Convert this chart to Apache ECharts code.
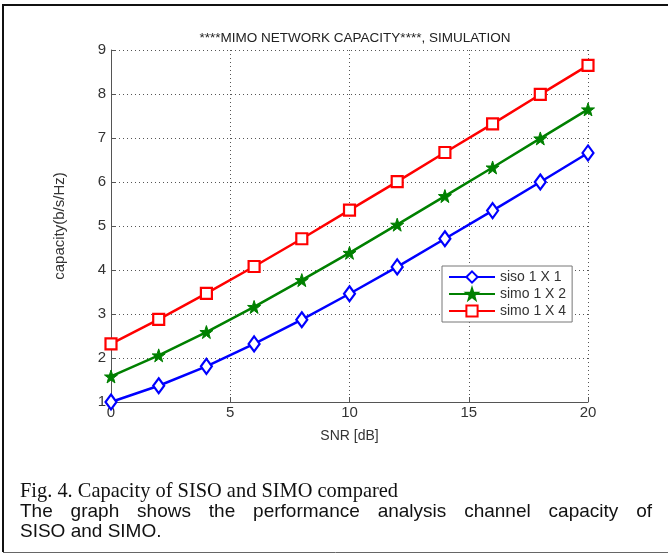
<!DOCTYPE html>
<html>
<head>
<meta charset="utf-8">
<script src="https://cdn.jsdelivr.net/npm/echarts@6/dist/echarts.min.js"></script>
<style>
  html, body { margin: 0; padding: 0; background: #fff; }
  #chart { width: 668px; height: 555px; }
</style>
</head>
<body>
<div id="chart"></div>
<script>
// SNR sweep in dB
const snrDb = [0, 2, 4, 6, 8, 10, 12, 14, 16, 18, 20];

// Capacity in b/s/Hz for each antenna configuration
const sisoCap   = [1.00, 1.37, 1.81, 2.32, 2.87, 3.46, 4.07, 4.71, 5.35, 6.00, 6.66];
const simo2Cap  = [1.58, 2.06, 2.59, 3.16, 3.77, 4.39, 5.03, 5.68, 6.33, 6.99, 7.65];
const simo4Cap  = [2.32, 2.88, 3.47, 4.08, 4.71, 5.36, 6.01, 6.67, 7.32, 7.99, 8.65];

const seriesNames = ['siso 1 X 1', 'simo 1 X 2', 'simo 1 X 4'];
const xTicks = [0, 5, 10, 15, 20];
const yTicks = [1, 2, 3, 4, 5, 6, 7, 8, 9];

const captionTitle = 'Fig. 4. Capacity of SISO and SIMO compared';
const captionLines = [
  'The graph shows the performance analysis channel capacity of',
  'SISO and SIMO.'
];

const starPath = 'path://M50,0 L61.8,35.1 L98.1,35.1 L68.8,56.7 L79.4,90.9 L50,70 L20.6,90.9 L31.2,56.7 L1.9,35.1 L38.2,35.1 Z';

function pairs(ys) { return snrDb.map((x, i) => [x, ys[i]]); }

// text measuring for caption layout
const measureCtx = document.createElement('canvas').getContext('2d');
function textWidth(str, font) { measureCtx.font = font; return measureCtx.measureText(str).width; }

const serifFamily = '"Liberation Serif", "DejaVu Serif", serif';
const sansFamily = '"Liberation Sans", Arial, sans-serif';

// caption heading: tall serif face squeezed into its column width
const headWidth = 378;
const headFont = '22px ' + serifFamily;
const headScale = headWidth / textWidth(captionTitle, headFont);

// body text is justified between the two margins
const bodyFont = '19px ' + sansFamily;
const textLeft = 20, textRight = 652;
function justifiedWords(line, top) {
  const words = line.split(' ');
  const widths = words.map(w => textWidth(w, bodyFont));
  const total = widths.reduce((a, b) => a + b, 0);
  const gap = (textRight - textLeft - total) / (words.length - 1);
  let x = textLeft;
  return words.map((w, i) => {
    const el = { type: 'text', x: x, y: top,
      style: { text: w, font: bodyFont, fill: '#111', textVerticalAlign: 'middle' } };
    x += widths[i] + gap;
    return el;
  });
}
function plainLine(line, top) {
  return { type: 'text', x: textLeft, y: top,
    style: { text: line, font: bodyFont, fill: '#111', textVerticalAlign: 'middle' } };
}

const chart = echarts.init(document.getElementById('chart'));

chart.setOption({
  animation: false,
  backgroundColor: '#fff',
  title: {
    text: '****MIMO NETWORK CAPACITY****, SIMULATION',
    left: 350, top: 26, textAlign: 'center',
    textStyle: { fontFamily: sansFamily, fontSize: 13.5, fontWeight: 'normal', color: '#222' }
  },
  grid: { left: 111, right: 80, top: 50, bottom: 153 },
  legend: {
    data: seriesNames,
    orient: 'vertical',
    left: 442, top: 266,
    width: 132,
    padding: [4, 6, 4, 6],
    itemGap: 3,
    itemWidth: 46, itemHeight: 14,
    backgroundColor: '#fff',
    borderColor: '#777', borderWidth: 1,
    textStyle: { fontFamily: sansFamily, fontSize: 14, color: '#333' }
  },
  xAxis: {
    type: 'value', min: 0, max: 20, interval: 5,
    name: 'SNR [dB]', nameLocation: 'middle', nameGap: 27,
    nameTextStyle: { fontFamily: sansFamily, fontSize: 14, color: '#333' },
    axisLine: { lineStyle: { color: '#555', width: 1 } },
    axisTick: { inside: true, length: 5, lineStyle: { color: '#555' } },
    axisLabel: { fontFamily: sansFamily, fontSize: 15, color: '#333', margin: 3,
      formatter: v => xTicks.includes(v) ? String(v) : '' },
    splitLine: { show: true, lineStyle: { type: [1, 3], color: '#555', width: 1 } }
  },
  yAxis: {
    type: 'value', min: 1, max: 9, interval: 1,
    name: 'capacity(b/s/Hz)', nameLocation: 'middle', nameGap: 44, nameRotate: 90,
    nameTextStyle: { fontFamily: sansFamily, fontSize: 15, color: '#333' },
    axisLine: { show: true, lineStyle: { color: '#555', width: 1 } },
    axisTick: { show: true, inside: true, length: 5, lineStyle: { color: '#555' } },
    axisLabel: { fontFamily: sansFamily, fontSize: 15, color: '#333', margin: 5,
      formatter: v => yTicks.includes(v) ? String(v) : '' },
    splitLine: { show: true, lineStyle: { type: [1, 3], color: '#555', width: 1 } }
  },
  series: [
    {
      name: seriesNames[0], type: 'line', data: pairs(sisoCap),
      symbol: 'diamond', symbolSize: [11, 15], showAllSymbol: true,
      lineStyle: { color: '#0000ff', width: 2.5 },
      itemStyle: { color: '#fff', borderColor: '#0000ff', borderWidth: 2.2 },
      z: 3
    },
    {
      name: seriesNames[1], type: 'line', data: pairs(simo2Cap),
      symbol: starPath, symbolSize: 13, showAllSymbol: true,
      lineStyle: { color: '#008000', width: 2.5 },
      itemStyle: { color: '#008000', borderColor: '#008000', borderWidth: 1 },
      z: 3
    },
    {
      name: seriesNames[2], type: 'line', data: pairs(simo4Cap),
      symbol: 'rect', symbolSize: 11, showAllSymbol: true,
      lineStyle: { color: '#ff0000', width: 2.5 },
      itemStyle: { color: '#fff', borderColor: '#ff0000', borderWidth: 2.2 },
      z: 3
    }
  ],
  graphic: [
    // frame of the figure panel
    { type: 'line', shape: { x1: 2, y1: 5, x2: 668, y2: 5 }, style: { stroke: '#111', lineWidth: 2 } },
    { type: 'line', shape: { x1: 3, y1: 5, x2: 3, y2: 552 }, style: { stroke: '#111', lineWidth: 2 } },
    { type: 'line', shape: { x1: 3, y1: 552.5, x2: 668, y2: 552.5 }, style: { stroke: '#666', lineWidth: 1 } },
    // caption
    { type: 'text', x: textLeft, y: 491, scaleX: headScale,
      style: { text: captionTitle, font: headFont, fill: '#111', textVerticalAlign: 'middle' } },
    ...justifiedWords(captionLines[0], 512),
    plainLine(captionLines[1], 532)
  ]
});
</script>
</body>
</html>
